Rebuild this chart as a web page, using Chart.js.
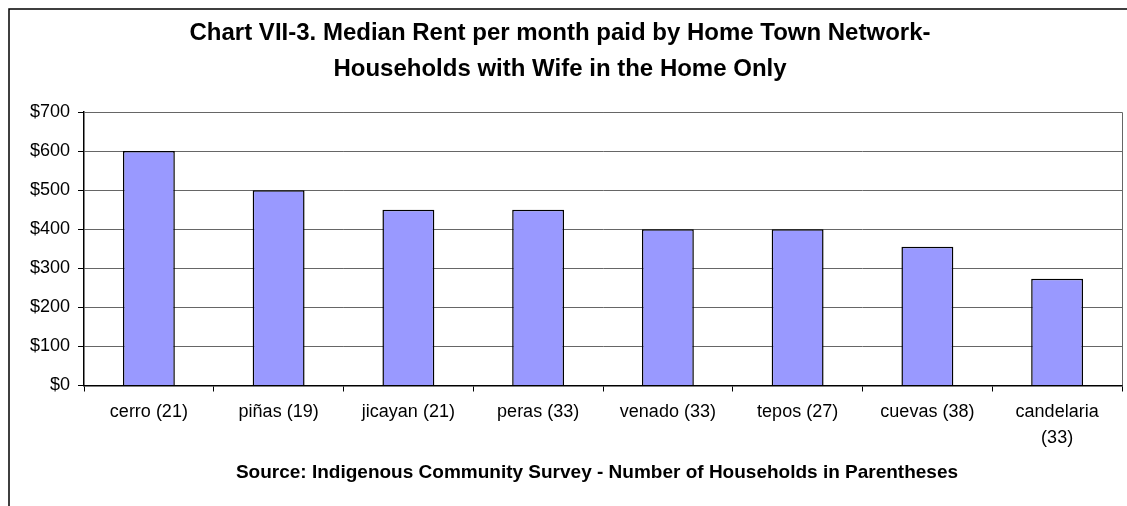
<!DOCTYPE html>
<html>
<head>
<meta charset="utf-8">
<script src="https://cdn.jsdelivr.net/npm/chart.js@4/dist/chart.umd.min.js"></script>
<style>
  html, body { margin: 0; padding: 0; background: #fff; }
  #wrap { width: 1127px; height: 506px; position: relative; }
</style>
</head>
<body>
<div id="wrap"><canvas id="chartRent"></canvas></div>
<script>
// pueblos de origen, con número de hogares entre paréntesis
const communities = [
    'cerro (21)', 'piñas (19)', 'jicayan (21)', 'peras (33)',
    'venado (33)', 'tepos (27)', 'cuevas (38)', ['candelaria', '(33)']
];
// renta mediana mensual (dólares)
const medianRent = [600, 500, 450, 450, 400, 400, 355, 273];
const titleLines = [
    'Chart VII-3. Median Rent per month paid by Home Town Network-',
    'Households with Wife in the Home Only'
];
const sourceNote = 'Source: Indigenous Community Survey - Number of Households in Parentheses';

const FONT = "'Liberation Sans', Arial, sans-serif";
Chart.defaults.font.family = FONT;
Chart.defaults.color = '#000';

// marco exterior, título, borde gris del área de trazado y nota de fuente
const framePlugin = {
    id: 'frame',
    beforeDatasetsDraw(chart) {
        const { ctx, chartArea: a } = chart;
        ctx.save();
        ctx.strokeStyle = '#666';
        ctx.lineWidth = 1;
        ctx.beginPath();
        ctx.moveTo(a.left, a.top + 0.5);
        ctx.lineTo(a.right + 0.5, a.top + 0.5);
        ctx.lineTo(a.right + 0.5, a.bottom);
        ctx.stroke();
        ctx.restore();
    },
    afterDraw(chart) {
        const { ctx } = chart;
        ctx.save();
        ctx.strokeStyle = '#000';
        ctx.lineWidth = 1.5;
        ctx.beginPath();
        ctx.moveTo(chart.width, 9);
        ctx.lineTo(9, 9);
        ctx.lineTo(9, chart.height);
        ctx.stroke();

        ctx.fillStyle = '#000';
        ctx.textAlign = 'center';
        ctx.textBaseline = 'middle';
        ctx.font = 'bold 24px ' + FONT;
        ctx.fillText(titleLines[0], 560, 33);
        ctx.fillText(titleLines[1], 560, 69);

        ctx.font = 'bold 19px ' + FONT;
        ctx.fillText(sourceNote, 597, 473);
        ctx.restore();
    }
};

const ctx = document.getElementById('chartRent').getContext('2d');
new Chart(ctx, {
    type: 'bar',
    data: {
        labels: communities,
        datasets: [{
            data: medianRent,
            backgroundColor: '#9999FF',
            borderColor: '#000',
            borderWidth: 1.5,
            barPercentage: 0.4,
            categoryPercentage: 1
        }]
    },
    options: {
        responsive: true,
        maintainAspectRatio: false,
        animation: false,
        layout: { padding: { left: 0, right: 5, top: 112, bottom: 0 } },
        plugins: {
            legend: { display: false },
            tooltip: { enabled: false },
            title: { display: false }
        },
        scales: {
            x: {
                grid: { drawOnChartArea: false, color: '#000', tickLength: 6, offset: true },
                border: { color: '#000', width: 1.5 },
                ticks: { font: { size: 18, lineHeight: 1.45 }, maxRotation: 0, autoSkip: false, padding: 7 },
                afterFit: s => { s.height = 120.5; }
            },
            y: {
                min: 0, max: 700,
                grid: { color: '#666', tickColor: '#000', tickLength: 6 },
                border: { color: '#000', width: 1.5 },
                ticks: {
                    stepSize: 100, font: { size: 18 }, padding: 8,
                    callback: v => '$' + v
                },
                afterFit: s => { s.width = 84; }
            }
        }
    },
    plugins: [framePlugin]
});
</script>
</body>
</html>
